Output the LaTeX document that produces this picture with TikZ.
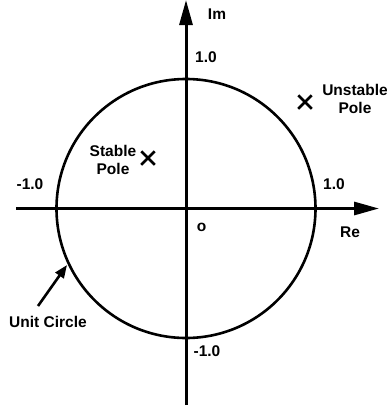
\documentclass[tikz,border=0pt]{standalone}
\usepackage{fontspec}
\setmainfont{Liberation Sans}
\usetikzlibrary{arrows.meta,shapes.misc}
\begin{document}
\begin{tikzpicture}[x=1pt,y=-1pt,
  lbl/.style={font=\fontsize{15.5}{18}\selectfont\bfseries, inner sep=0pt, align=center},
  axis/.style={line width=3pt, -{Triangle[length=25pt,width=13pt]}},
  pole/.style={cross out, draw, line width=2.5pt, minimum size=11pt, inner sep=0pt}]
\useasboundingbox (0,0) rectangle (387,408);
\coordinate (O) at (186,208.5);
\coordinate (xl) at (16,208.5);
\coordinate (xr) at (379,208.5);
\coordinate (yb) at (186,405);
\coordinate (yt) at (186,0);
\draw[axis] (xl) -- (xr);
\draw[axis] (yb) -- (yt);
\draw[line width=2.6pt] (O) circle[radius=129.5];
\node[pole] (up) at (305,102) {};
\node[pole] (sp) at (148,158) {};
\node[lbl] (im) at (217,14) {Im};
\node[lbl] (re) at (350,232) {Re};
\node[lbl] (o) at (201.5,227) {o};
\node[lbl] (t1) at (206,57) {1.0};
\node[lbl] (b1) at (207,351) {-1.0};
\node[lbl] (l1) at (30,184) {-1.0};
\node[lbl] (r1) at (334,184) {1.0};
\node[lbl] (ul) at (355,99) {Unstable\\Pole};
\node[lbl] (sl) at (113,160) {Stable\\Pole};
\node[lbl] (uc) at (48,322) {Unit Circle};
\coordinate (uct) at (67,265);
\coordinate (ucs) at (38,306);
\draw[line width=2.6pt, -{Triangle[length=13pt,width=10pt]}] (ucs) -- (uct);
\end{tikzpicture}
\end{document}
